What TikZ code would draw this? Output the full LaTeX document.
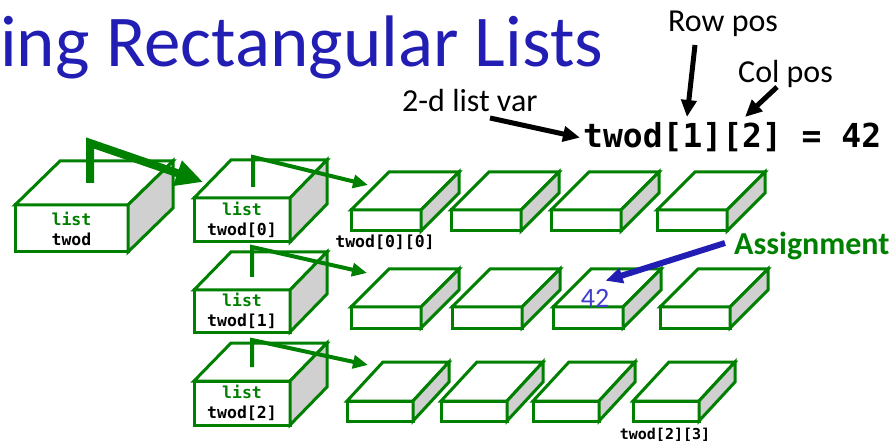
\documentclass[tikz,border=0pt]{standalone}
\usepackage{fontspec}
\setmainfont{Carlito}
\newfontfamily\codefont{DejaVu Sans Mono}
\usetikzlibrary{arrows.meta}

\definecolor{boxgreen}{RGB}{0,128,0}
\definecolor{sidegray}{RGB}{208,208,208}
\definecolor{titleblue}{RGB}{34,30,180}
\definecolor{valblue}{RGB}{64,64,205}

% A 3-D slab: front face is a named node, top and side faces hang off its anchors.
% #1 name, #2 x, #3 y (front top-left), #4 width, #5 height, #6 depth x, #7 depth y, #8 text
\newcommand\slab[8]{%
  \node[front, minimum width=#4pt, minimum height=#5pt] (#1) at (#2,#3) {#8};
  \draw[face] (#1.north west) -- ++(#6,-#7) -- ++(#4,0) -- (#1.north east) -- cycle;
  \draw[face, fill=sidegray] (#1.north east) -- ++(#6,-#7) -- ++(0,#5) -- (#1.south east) -- cycle;
}

\begin{document}
\begin{tikzpicture}[x=1pt, y=-1pt,
  face/.style={draw=boxgreen, line width=3pt, fill=white, line join=miter},
  code/.style={font=\codefont\bfseries\fontsize{16.5}{20}\selectfont},
  front/.style={face, code, anchor=north west, inner sep=0pt, outer sep=0pt, align=center},
  ptr/.style={draw=boxgreen, line width=4pt, -{Triangle[length=15pt, width=13pt]}},
  bigptr/.style={draw=boxgreen, line width=8pt, -{Triangle[length=27pt, width=25pt]}},
  callout/.style={draw=black, line width=5pt, -{Triangle[length=17pt, width=15pt]}},
  lbl/.style={font=\fontsize{32}{36}\selectfont, inner sep=0pt, anchor=base west},
]
\useasboundingbox (0,0) rectangle (896,443);

% title
\node[anchor=base west, inner sep=0pt, text=titleblue,
      font=\fontsize{73}{73}\selectfont] (title) at (0,67) {ing Rectangular Lists};

% the outer list variable
\slab{twod}{15}{205}{113}{47}{45}{44}{\textcolor{boxgreen}{list}\\twod}

% the row lists
\slab{row0}{194}{198}{96}{44}{37}{38}{\textcolor{boxgreen}{list}\\twod[0]}
\slab{row1}{194}{290}{96}{42}{37}{38}{\textcolor{boxgreen}{list}\\twod[1]}
\slab{row2}{194}{381}{96}{44}{37}{38}{\textcolor{boxgreen}{list}\\twod[2]}

% row 0 cells
\slab{c00}{351}{210}{70}{21}{38}{38}{}
\slab{c01}{451}{210}{70}{21}{38}{38}{}
\slab{c02}{551}{210}{70}{21}{38}{38}{}
\slab{c03}{657}{210}{70}{21}{38}{38}{}
% row 1 cells
\slab{c10}{351}{307}{70}{21}{38}{38}{}
\slab{c11}{452}{307}{70}{21}{38}{38}{}
\slab{c12}{553}{307}{70}{21}{38}{38}{}
\slab{c13}{660}{307}{70}{21}{38}{38}{}
% row 2 cells
\slab{c20}{347}{401}{66}{20}{36}{39}{}
\slab{c21}{441}{401}{66}{20}{36}{39}{}
\slab{c22}{533}{401}{66}{20}{36}{39}{}
\slab{c23}{633}{401}{66}{20}{36}{39}{}

% cell labels
\node[code] (lbl00) at (385,242) {twod[0][0]};
\node[code, font=\codefont\bfseries\fontsize{15}{18}\selectfont] (lbl23) at (665,435) {twod[2][3]};

% stored value
\node[text=valblue, font=\fontsize{28}{28}\selectfont, inner sep=0pt] (val) at (595,298) {42};

% references
\draw[bigptr] ([shift={(75,-22)}]twod.north west) -- ++(0,-40) -- ([shift={(9,-16)}]row0.north west);
\draw[ptr] ([shift={(59,-11)}]row0.north west) -- ++(0,-30) -- ([shift={(17,-25)}]c00.north west);
\draw[ptr] ([shift={(58,-13)}]row1.north west) -- ++(0,-30) -- ([shift={(16,-34)}]c10.north west);
\draw[ptr] ([shift={(58,-14)}]row2.north west) -- ++(0,-27) -- ([shift={(21,-36)}]c20.north west);

% statement and its annotations
\node[lbl, font=\codefont\bfseries\fontsize{33}{36}\selectfont] (stmt) at (583,148) {twod[1][2] = 42};
\node[lbl] (listvar) at (402,112) {2-d list var};
\node[lbl] (rowpos) at (668,32) {Row pos};
\node[lbl] (colpos) at (738,83) {Col pos};
\node[lbl, font=\bfseries\fontsize{32}{36}\selectfont, text=boxgreen] (assign) at (734,255) {Assignment};

\coordinate (varfrom) at (490,118);
\coordinate (rowfrom) at (695,45);
\coordinate (colfrom) at (777,87);
\coordinate (asgfrom) at (725,243);

\draw[callout] (varfrom) -- ([xshift=-3pt]stmt.west);
\draw[callout] (rowfrom) -- (687,117);
\draw[callout] (colfrom) -- (745,117);
\draw[callout, draw=titleblue, line width=6pt] (asgfrom) -- ([shift={(25,-8)}]val.north west);
\end{tikzpicture}
\end{document}
